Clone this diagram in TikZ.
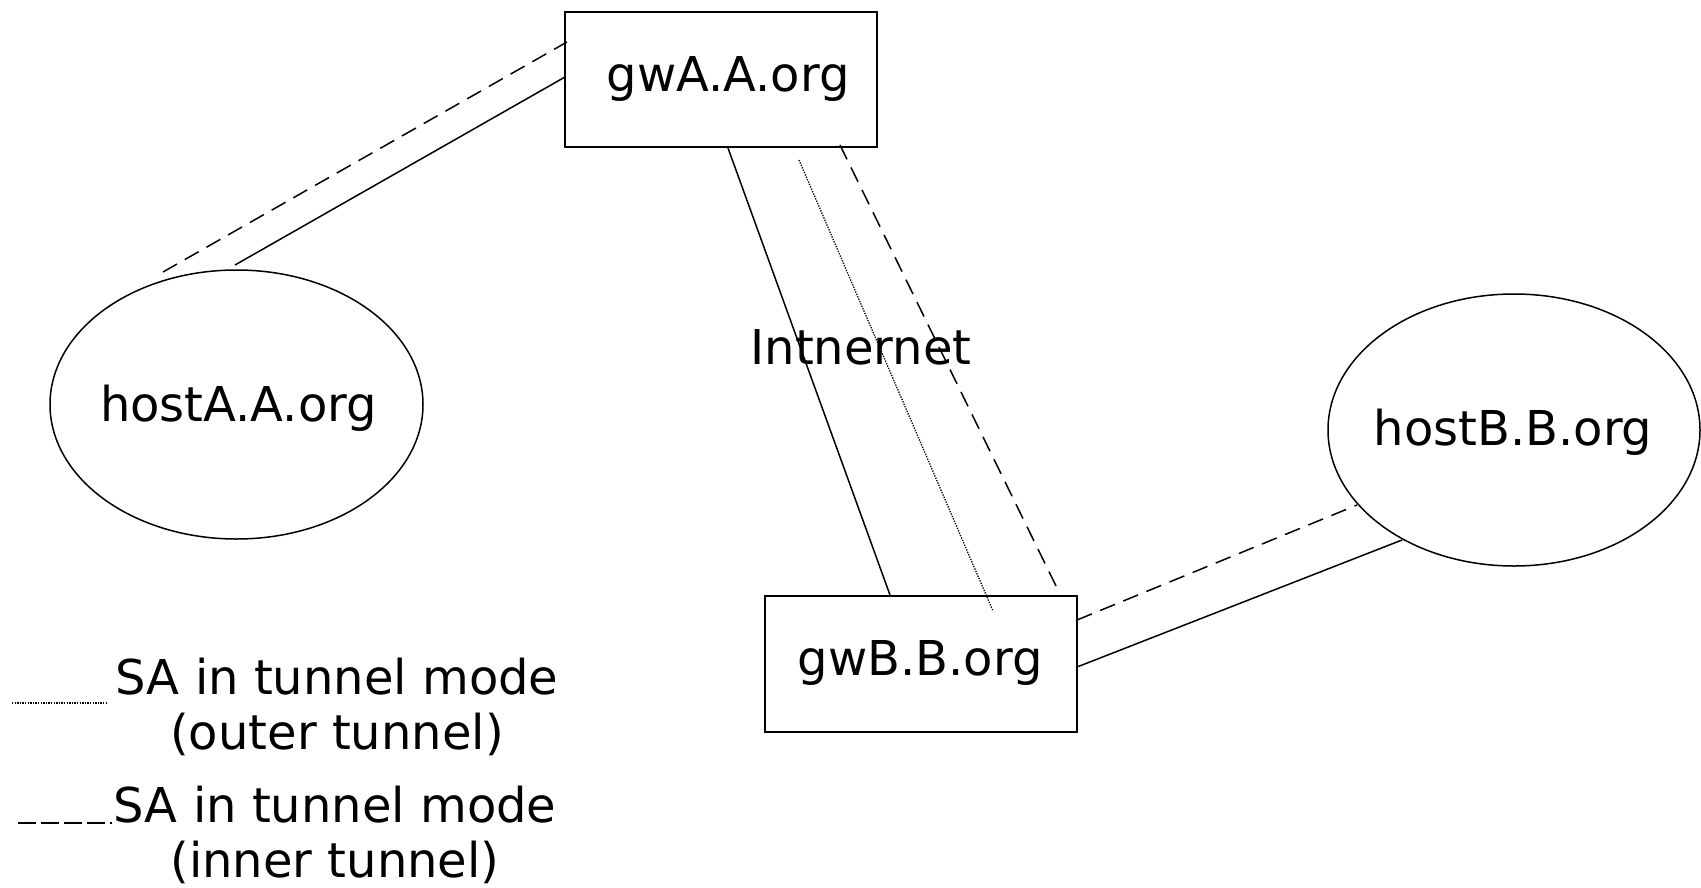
\documentclass[tikz,border=0pt]{standalone}
\usepackage{fontspec}
\setmainfont{DejaVu Sans}
\usetikzlibrary{shapes.geometric}
\begin{document}
\begin{tikzpicture}[x=1pt,y=-1pt,
  txt/.style={font=\fontsize{48}{58}\selectfont, inner sep=0pt},
  gwbox/.style={draw, line width=2pt, minimum width=312pt, minimum height=135pt, inner sep=0pt, txt},
  hostell/.style={draw, ellipse, line width=1.5pt, inner sep=0pt},
  conn/.style={line width=1.5pt},
  innertun/.style={line width=1.5pt, dash pattern=on 16pt off 9pt},
  outertun/.style={line width=1.3pt, dash pattern=on 1.3pt off 1.3pt},
  legdash/.style={line width=1.5pt, dash pattern=on 18pt off 5pt}]
\useasboundingbox (0,0) rectangle (1701,887);

% nodes
\node[gwbox, label={[txt, xshift=7pt, yshift=1pt]center:gwA.A.org}] (gwA) at (721,79.5) {};
\node[gwbox, minimum height=136pt] (gwB) at (921,664) {};
\node[txt] (gwBt) at (920,663) {gwB.B.org};
\node[hostell, minimum width=373pt, minimum height=269pt] (hostA) at (236.5,404.5) {};
\node[txt] (hostAt) at (238.5,408) {hostA.A.org};
\node[hostell, minimum width=372pt, minimum height=272pt] (hostB) at (1514,430) {};
\node[txt] (hostBt) at (1513,432) {hostB.B.org};
\node[txt] (inet) at (861,347.5) {Intnernet};

% endpoints
\coordinate (a1) at (235,265);  \coordinate (a2) at (565,77);
\coordinate (a3) at (163,272);  \coordinate (a4) at (567,42);
\coordinate (b1) at (728,148);  \coordinate (b2) at (890,595);
\coordinate (b3) at (799,160);  \coordinate (b4) at (993,611);
\coordinate (b5) at (840,145);  \coordinate (b6) at (1058,590);
\coordinate (c1) at (1077,620); \coordinate (c2) at (1357,505);
\coordinate (c3) at (1077,667); \coordinate (c4) at (1402,540);

\draw[conn] (a1) -- (a2);
\draw[innertun] (a3) -- (a4);
\draw[conn] (b1) -- (b2);
\draw[outertun] (b3) -- (b4);
\draw[innertun] (b5) -- (b6);
\draw[innertun] (c1) -- (c2);
\draw[conn] (c3) -- (c4);

% legend
\node[txt, anchor=base] (l1) at (337,694) {SA in tunnel mode};
\node[txt, anchor=base] (l2) at (337,749) {(outer tunnel)};
\node[txt, anchor=base] (l3) at (335,822) {SA in tunnel mode};
\node[txt, anchor=base] (l4) at (335,877) {(inner tunnel)};
\coordinate (d1) at (12,703);  \coordinate (d2) at (107,703);
\coordinate (e1) at (18,823);  \coordinate (e2) at (112,823);
\draw[outertun] (d1) -- (d2);
\draw[legdash] (e1) -- (e2);
\end{tikzpicture}
\end{document}
